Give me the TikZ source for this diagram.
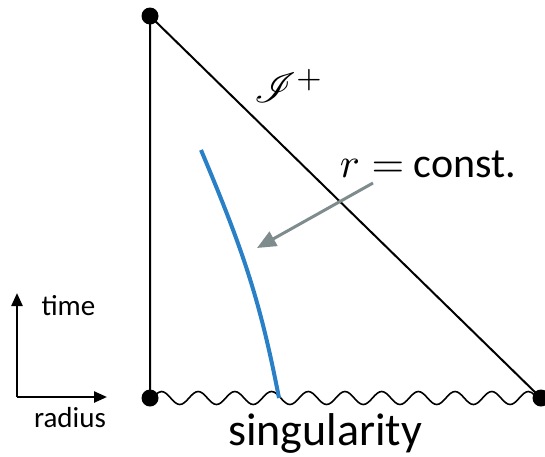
\documentclass[tikz,border=0pt]{standalone}
\usepackage{fontspec}
\setmainfont{Carlito}
\usepackage{mathrsfs}
\usepackage{tikz}
\usetikzlibrary{arrows.meta,decorations.pathmorphing}
\definecolor{worldblue}{RGB}{41,128,199}
\definecolor{pointgray}{RGB}{127,140,141}

\begin{document}
\begin{tikzpicture}[x=1pt,y=-1pt,>={Triangle[length=13pt,width=11pt]}]
    \useasboundingbox (0,0) rectangle (545,456);
    % Corners of the diagram
    \coordinate (T) at (150,16);
    \coordinate (L) at (150,398);
    \coordinate (R) at (541,398);
    
    % Boundaries
    \draw[line width=2pt] (L)--(T)--(R);
    \draw[line width=1.6pt,decorate,decoration={snake,amplitude=6.5pt,segment length=36.7pt}] (L)--(R);
    
    % Corner points
    \foreach \pt in {T,L,R}
        \fill[black] (\pt) circle (8.5pt);
    
    % Worldline r = const.
    \coordinate (W1) at (201,150);
    \coordinate (W2) at (279,398);
    \draw[worldblue,line width=4pt] (W1) .. controls (243,250) and (260,300) .. (W2);
    
    % Labels
    \node (scri) at (289,86) {\scalebox{4.2}{$\mathscr{I}^+$}};
    \node[anchor=base] (rconst) at (428,177) {\scalebox{4.2}{$r=$}\fontsize{42}{46}\selectfont\ const.};
    \node[anchor=base] (sing) at (325,445) {\fontsize{46}{50}\selectfont singularity};
    \coordinate (P1) at (373,183);
    \coordinate (P2) at (257,248);
    \draw[->,pointgray,line width=3pt,>={Triangle[length=19pt,width=16pt]}] (P1)--(P2);
    
    % Axes
    \coordinate (O) at (17,397);
    \coordinate (Ot) at (17,293);
    \coordinate (Or) at (107,397);
    \draw[->,line width=2.4pt] (O)--(Ot);
    \draw[->,line width=2.4pt] (O)--(Or);
    \node[anchor=base west] (time) at (38,315) {\fontsize{29}{32}\selectfont time};
    \node[anchor=base] (radius) at (70,427) {\fontsize{29}{32}\selectfont radius};
\end{tikzpicture}
\end{document}
